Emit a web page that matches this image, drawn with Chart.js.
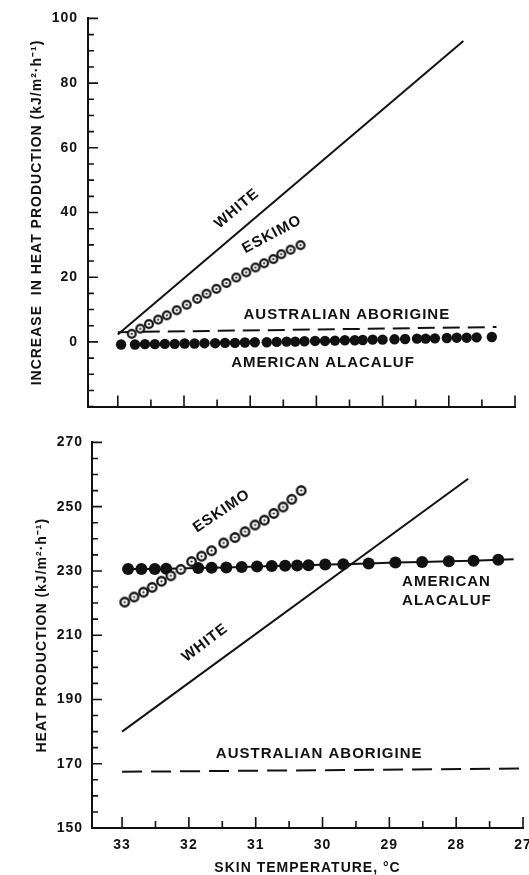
<!DOCTYPE html>
<html>
<head>
<meta charset="utf-8">
<script src="https://cdn.jsdelivr.net/npm/chart.js@4.4.1/dist/chart.umd.min.js"></script>
<style>
  html, body { margin: 0; padding: 0; background: #fff; overflow: hidden; width: 529px; height: 875px; }
  .panel { position: absolute; left: 0; width: 545px; }
  #topPanel { top: 0; height: 425px; }
  #bottomPanel { top: 425px; height: 452px; }
</style>
</head>
<body>
<div class="panel" id="topPanel"><canvas id="topChart"></canvas></div>
<div class="panel" id="bottomPanel"><canvas id="bottomChart"></canvas></div>
<script>
// ---- top panel: increase in heat production ----
const whiteTopX = [33, 27.78];
const whiteTopY = [2.3, 93];
const eskimoTopX = [32.79, 32.66, 32.53, 32.39, 32.26, 32.11, 31.96, 31.80, 31.66, 31.51, 31.36, 31.21, 31.06, 30.92, 30.79, 30.65, 30.53, 30.39, 30.24];
const eskimoTopY = [2.5, 4.1, 5.5, 6.9, 8.2, 9.8, 11.5, 13.3, 14.9, 16.4, 18.2, 19.9, 21.5, 23.0, 24.3, 25.6, 27.1, 28.5, 29.9];
const aborigineTopX = [33, 27.28];
const aborigineTopY = [3.0, 4.6];
const alacalufTopX = [32.95, 32.74, 32.59, 32.44, 32.29, 32.14, 31.99, 31.84, 31.69, 31.53, 31.38, 31.23, 31.08, 30.93, 30.75, 30.60, 30.45, 30.32, 30.18, 30.02, 29.87, 29.72, 29.57, 29.42, 29.30, 29.15, 29.00, 28.82, 28.66, 28.48, 28.35, 28.21, 28.03, 27.88, 27.73, 27.58, 27.35];
const alacalufTopY = [-0.8, -0.8, -0.7, -0.7, -0.6, -0.6, -0.5, -0.5, -0.4, -0.4, -0.3, -0.3, -0.2, -0.1, -0.1, 0, 0.1, 0.1, 0.2, 0.3, 0.3, 0.4, 0.5, 0.5, 0.6, 0.7, 0.7, 0.8, 0.9, 1.0, 1.0, 1.1, 1.2, 1.3, 1.3, 1.4, 1.5];
const topYTickLabels = [0, 20, 40, 60, 80, 100];

// ---- bottom panel: heat production ----
const whiteBotX = [33, 27.82];
const whiteBotY = [180, 258.7];
const eskimoBotX = [32.96, 32.82, 32.68, 32.55, 32.41, 32.27, 32.12, 31.96, 31.81, 31.66, 31.48, 31.31, 31.16, 31.01, 30.87, 30.73, 30.59, 30.46, 30.32];
const eskimoBotY = [220.3, 221.9, 223.4, 224.9, 226.8, 228.5, 230.5, 232.9, 234.6, 236.3, 238.7, 240.4, 242.2, 244.3, 245.8, 247.9, 249.9, 252.3, 255.0];
const alacalufBotX = [32.91, 32.71, 32.51, 32.34, 31.86, 31.66, 31.44, 31.21, 30.98, 30.76, 30.56, 30.38, 30.21, 29.96, 29.69, 29.31, 28.91, 28.51, 28.11, 27.74, 27.37, 27.14];
const alacalufBotY = [230.6, 230.6, 230.6, 230.7, 230.9, 231.0, 231.1, 231.2, 231.4, 231.5, 231.6, 231.7, 231.8, 232.0, 232.1, 232.3, 232.6, 232.8, 233.0, 233.2, 233.5, 233.6];
const aborigineBotX = [33, 26.97];
const aborigineBotY = [167.5, 168.5];
const bottomYTickLabels = [150, 170, 190, 210, 230, 250, 270];

// skin temperature ticks (every half degree, labels on whole degrees)
const xTickValues = [33, 32.5, 32, 31.5, 31, 30.5, 30, 29.5, 29, 28.5, 28, 27.5, 27];
const xTickLabels = [33, 32, 31, 30, 29, 28, 27];

const INK = '#111';
Chart.defaults.font.family = "'Liberation Sans', Arial, sans-serif";
Chart.defaults.font.weight = 'bold';
Chart.defaults.color = INK;

function pts(xs, ys) {
  return xs.map((x, i) => ({ x: x, y: ys[i] }));
}

// open circle with a dot in the middle
function ringPoint(r, lw) {
  const c = document.createElement('canvas');
  const s = Math.ceil(r * 2 + 2);
  c.width = c.height = s;
  const g = c.getContext('2d');
  g.beginPath();
  g.arc(s / 2, s / 2, r - lw / 2, 0, Math.PI * 2);
  g.fillStyle = '#fff';
  g.fill();
  g.lineWidth = lw;
  g.strokeStyle = INK;
  g.stroke();
  g.beginPath();
  g.arc(s / 2, s / 2, 1.1, 0, Math.PI * 2);
  g.fillStyle = INK;
  g.fill();
  return c;
}

// ticks pointing into the plot, like the original figure
const innerTicks = {
  id: 'innerTicks',
  beforeDraw(chart) {
    chart.ctx.letterSpacing = '1px';
  },
  beforeDatasetsDraw(chart, args, opts) {
    const { ctx, chartArea: a, scales: { x, y } } = chart;
    ctx.save();
    ctx.strokeStyle = INK;
    ctx.lineWidth = 1.6;
    ctx.beginPath();
    y.ticks.forEach(t => {
      const major = opts.yMajor.includes(t.value);
      const py = y.getPixelForValue(t.value);
      ctx.moveTo(a.left, py);
      ctx.lineTo(a.left + (major ? 10 : 6), py);
    });
    x.ticks.forEach(t => {
      const major = xTickLabels.includes(t.value);
      const px = x.getPixelForValue(t.value);
      ctx.moveTo(px, a.bottom);
      ctx.lineTo(px, a.bottom - (major ? 11 : 7));
    });
    ctx.stroke();
    ctx.restore();
  },
  afterDatasetsDraw(chart, args, opts) {
    const { ctx, scales: { x, y } } = chart;
    ctx.save();
    ctx.fillStyle = INK;
    ctx.font = "bold 15px 'Liberation Sans', Arial, sans-serif";
    ctx.letterSpacing = '1px';
    ctx.textBaseline = 'middle';
    opts.notes.forEach(n => {
      ctx.save();
      ctx.translate(x.getPixelForValue(n.x), y.getPixelForValue(n.y));
      ctx.rotate((n.angle || 0) * Math.PI / 180);
      ctx.textAlign = n.align || 'center';
      ctx.fillText(n.text, 0, 0);
      ctx.restore();
    });
    ctx.restore();
  }
};

function makePanel(id, cfg) {
  return new Chart(document.getElementById(id), {
    type: 'scatter',
    data: { datasets: cfg.datasets },
    options: {
      responsive: true,
      maintainAspectRatio: false,
      animation: false,
      events: [],
      layout: { padding: cfg.padding },
      plugins: {
        legend: { display: false },
        tooltip: { enabled: false },
        innerTicks: { yMajor: cfg.yLabels, notes: cfg.notes }
      },
      scales: {
        x: {
          type: 'linear',
          reverse: true,
          min: 27,
          max: 33.45,
          grid: { display: false, drawTicks: false },
          border: { display: true, color: INK, width: 2 },
          afterBuildTicks: s => { s.ticks = xTickValues.map(v => ({ value: v })); },
          ticks: {
            display: cfg.showX,
            autoSkip: false,
            maxRotation: 0,
            padding: 9,
            font: { size: 14 },
            callback: v => xTickLabels.includes(v) ? String(v) : ''
          },
          title: {
            display: cfg.showX,
            text: 'SKIN TEMPERATURE, °C',
            font: { size: 14 },
            padding: { top: 0, bottom: 0 }
          },
          afterFit: s => { s.height = cfg.xHeight; }
        },
        y: {
          min: cfg.yMin,
          max: cfg.yMax,
          grid: { display: false, drawTicks: false },
          border: { display: true, color: INK, width: 2 },
          afterBuildTicks: s => {
            const t = [];
            for (let v = cfg.yMin; v <= cfg.yMax; v += 5) t.push({ value: v });
            s.ticks = t;
          },
          ticks: {
            autoSkip: false,
            padding: cfg.yPad,
            font: { size: 14 },
            callback: v => cfg.yLabels.includes(v) ? String(v) : ''
          },
          title: {
            display: true,
            text: cfg.yTitle,
            font: { size: 14 },
            padding: { top: cfg.yTitlePad, bottom: 0 }
          },
          afterFit: s => { s.width = cfg.yWidth; }
        }
      }
    },
    plugins: [innerTicks]
  });
}

const ringSmall = ringPoint(5, 2.2);
const ringBig = ringPoint(5.4, 2.3);

makePanel('topChart', {
  yMin: -20, yMax: 100, yLabels: topYTickLabels,
  yTitle: 'INCREASE  IN HEAT PRODUCTION (kJ/m²·h⁻¹)',
  yTitlePad: 29, yPad: 10, yWidth: 88, xHeight: 15, showX: false,
  padding: { top: 15, right: 30, left: 0, bottom: 0 },
  datasets: [
    { label: 'Eskimo', data: pts(eskimoTopX, eskimoTopY), pointStyle: ringSmall, pointRadius: 5, showLine: false },
    { label: 'White', data: pts(whiteTopX, whiteTopY), showLine: true, borderColor: INK, borderWidth: 2, pointRadius: 0 },
    { label: 'Australian Aborigine', data: pts(aborigineTopX, aborigineTopY), showLine: true, borderColor: INK, borderWidth: 2, borderDash: [17, 8], pointRadius: 0 },
    { label: 'American Alacaluf', data: pts(alacalufTopX, alacalufTopY), showLine: false, pointRadius: 5.2, pointBackgroundColor: INK, pointBorderColor: INK, pointBorderWidth: 0 }
  ],
  notes: [
    { text: 'WHITE', x: 31.2, y: 41.2, angle: -40 },
    { text: 'ESKIMO', x: 30.67, y: 33.2, angle: -28 },
    { text: 'AUSTRALIAN ABORIGINE', x: 29.54, y: 8.3 },
    { text: 'AMERICAN ALACALUF', x: 29.9, y: -6.5 }
  ]
});

makePanel('bottomChart', {
  yMin: 150, yMax: 270, yLabels: bottomYTickLabels,
  yTitle: 'HEAT PRODUCTION (kJ/m²·h⁻¹)',
  yTitlePad: 34, yPad: 9, yWidth: 92, xHeight: 49, showX: true,
  padding: { top: 12, right: 22, left: 0, bottom: 0 },
  datasets: [
    { label: 'Eskimo', data: pts(eskimoBotX, eskimoBotY), pointStyle: ringBig, pointRadius: 5, showLine: false },
    { label: 'White', data: pts(whiteBotX, whiteBotY), showLine: true, borderColor: INK, borderWidth: 2, pointRadius: 0 },
    { label: 'Australian Aborigine', data: pts(aborigineBotX, aborigineBotY), showLine: true, borderColor: INK, borderWidth: 2, borderDash: [20, 9], pointRadius: 0 },
    { label: 'American Alacaluf', data: pts(alacalufBotX, alacalufBotY), showLine: true, borderColor: INK, borderWidth: 2,
      pointRadius: alacalufBotX.map((v, i) => i === alacalufBotX.length - 1 ? 0 : 6), pointBackgroundColor: INK, pointBorderColor: INK, pointBorderWidth: 0 }
  ],
  notes: [
    { text: 'ESKIMO', x: 31.51, y: 248.6, angle: -34 },
    { text: 'WHITE', x: 31.76, y: 207.6, angle: -37 },
    { text: 'AMERICAN', x: 28.81, y: 226.5, align: 'left' },
    { text: 'ALACALUF', x: 28.81, y: 220.7, align: 'left' },
    { text: 'AUSTRALIAN ABORIGINE', x: 30.05, y: 173 }
  ]
});
</script>
</body>
</html>
